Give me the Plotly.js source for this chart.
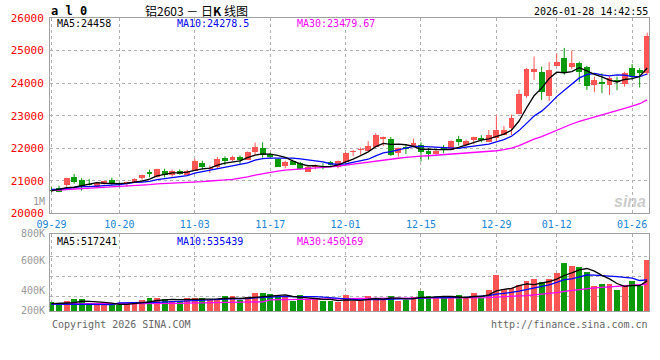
<!DOCTYPE html>
<html><head><meta charset="utf-8">
<script src="https://cdn.plot.ly/plotly-3.0.1.min.js"></script>
<style>html,body{margin:0;padding:0;background:#fff}#chart{width:660px;height:360px}</style>
</head><body><div id="chart"></div>
<script>
// ---- data (al0 daily K line, 2025-09-29 .. 2026-01-28) ----
const tickPos = [0, 9, 19, 29, 39, 49, 59, 67, 77];
const tickLabels = ['09-29','10-20','11-03','11-17','12-01','12-15','12-29','01-12','01-26'];

const openP = [20730,20787,20870,21116,21033,20900,20810,20890,21015,20900,
  20890,20960,21076,21279,21107,21300,21187,21300,21190,21310,
  21556,21353,21424,21710,21639,21740,21648,21876,22017,21833,
  21664,21464,21617,21537,21280,21414,21460,21587,21424,21568,
  21875,21937,21925,22039,22275,22294,21845,22030,22040,22110,
  21925,21823,21997,21956,22285,22110,22265,22325,22200,22316,
  22417,22613,23063,23607,24345,24330,23607,24540,24775,24490,
  24630,24490,23955,24036,23955,24100,23965,24470,24400,24305];
const highP = [20800,20849,21090,21208,21085,21054,20935,21000,21095,20950,
  20975,21075,21185,21341,21370,21370,21341,21350,21340,21670,
  21617,21470,21730,21750,21770,21780,21900,22171,22181,21860,
  21680,21617,21650,21580,21440,21500,21540,21600,21620,21880,
  21940,22020,22220,22460,22360,22340,22020,22090,22294,22183,
  22000,21940,22100,22240,22380,22260,22350,22400,22560,23010,
  22680,23032,23800,24460,24815,24508,24650,24918,25080,25000,
  24661,24528,24200,24300,24200,24200,24350,24590,24460,25550];
const lowP = [20645,20650,20818,20910,20695,20849,20795,20880,20870,20840,
  20818,20950,21030,21107,21100,21107,21125,21190,21150,21300,
  21340,21240,21363,21484,21600,21500,21640,21800,21710,21710,
  21420,21380,21480,21340,21270,21350,21350,21470,21380,21560,
  21750,21800,21900,22030,22068,21762,21741,21820,22030,21587,
  21650,21810,21840,21950,22080,22070,22120,22180,22190,22230,
  22400,22407,23040,23555,24100,23484,23444,24520,24253,24428,
  24036,23790,23730,23690,23637,23780,23890,24100,23865,24250];
const closeP = [20690,20664,21085,20972,20849,20880,20920,20993,20890,20870,
  20960,21060,21178,21199,21362,21170,21300,21200,21300,21617,
  21414,21393,21670,21608,21740,21630,21894,22048,21802,21730,
  21437,21587,21494,21353,21433,21464,21440,21485,21608,21863,
  21925,21968,22070,22408,22355,21793,22008,21968,22171,21886,
  21833,21925,21945,22212,22202,22212,22343,22263,22417,22571,
  22570,22940,23678,24428,24447,23739,24410,24650,24345,24630,
  24333,23924,24100,23965,24150,24036,24305,24220,24300,25460];
const volume = [148000,119000,165000,199000,199000,136000,97000,97000,141000,97000,
  131000,148000,182000,216000,216000,199000,175000,165000,216000,216000,
  216000,182000,199000,250000,250000,182000,233000,301000,301000,284000,
  250000,233000,165000,267000,199000,199000,165000,165000,148000,267000,
  165000,165000,250000,216000,216000,250000,165000,182000,233000,335000,
  250000,216000,216000,216000,267000,233000,301000,216000,352000,607000,
  369000,386000,437000,505000,539000,488000,539000,641000,811000,760000,
  743000,658000,420000,454000,454000,352000,420000,505000,420000,867000];

const ma5Lead  = [20686,20738,20787,20800];
const ma10Lead = [20738,20740,20769,20800,20818,20818,20830,20840,20850];
const ma30Lead = [20695,20716,20738,20747,20757,20769,20787,20800,20809,20830,
  20849,20861,20870,20880,20901,20910,20922,20932,20953,20962,
  20972,20993,21002,21024,21045,21075,21120,21170,21210];
const vma5Lead  = [127000,127000,136000,143000];
const vma10Lead = [119000,119000,119000,119000,119000,119000,116000,112000,110000];
const vma30Lead = [119000,119000,119000,119000,119000,119000,119000,119000,119000,119000,
  119000,121000,122000,124000,126000,128000,129000,131000,133000,136000,
  136000,138000,139000,141000,145000,146000,150000,153000,156000];

const maText = {p5:'MA5:24458', p10:'MA10:24278.5', p30:'MA30:23479.67',
  v5:'MA5:517241', v10:'MA10:535439', v30:'MA30:450169'};
const volLabels = ['1M','800K','600K','400K','200K'];
const priceTicks = [20000,21000,22000,23000,24000,25000,26000];
const priceTickText = ['20000','21000','22000','23000','24000','25000','26000'];

// ---- helpers ----
function movingAvg(vals, n, lead) {
  return vals.map((v, i) => {
    if (i < n - 1) return lead[i];
    let s = 0; for (let k = i - n + 1; k <= i; k++) s += vals[k];
    return s / n;
  });
}
const N = closeP.length;
const idx = closeP.map((_, i) => i);
const RED = '#ff5555', GREEN = '#0a9a0a';
const up = closeP.map((c, i) => c >= openP[i]);
const col = up.map(u => u ? RED : GREEN);

function wicks(flag) {
  const x = [], y = [];
  for (let i = 0; i < N; i++) if (up[i] === flag) { x.push(i, i, null); y.push(lowP[i], highP[i], null); }
  return {x, y};
}
const wr = wicks(true), wg = wicks(false);
const MONO = 'DejaVu Sans Mono';

const traces = [
  {type:'scatter', mode:'lines', x:wr.x, y:wr.y, line:{color:RED, width:1}, hoverinfo:'skip', xaxis:'x', yaxis:'y'},
  {type:'scatter', mode:'lines', x:wg.x, y:wg.y, line:{color:GREEN, width:1}, hoverinfo:'skip', xaxis:'x', yaxis:'y'},
  {type:'bar', x:idx, base:closeP.map((c,i)=>Math.min(c,openP[i])),
   y:closeP.map((c,i)=>Math.max(Math.abs(c-openP[i]), 28)), width:0.78,
   marker:{color:col, line:{width:0}}, xaxis:'x', yaxis:'y'},
  {type:'scatter', mode:'lines', x:idx, y:movingAvg(closeP,30,ma30Lead), line:{color:'#ff00ff', width:1.3}, xaxis:'x', yaxis:'y'},
  {type:'scatter', mode:'lines', x:idx, y:movingAvg(closeP,10,ma10Lead), line:{color:'#0000ff', width:1.3}, xaxis:'x', yaxis:'y'},
  {type:'scatter', mode:'lines', x:idx, y:movingAvg(closeP,5,ma5Lead), line:{color:'#000000', width:1.3}, xaxis:'x', yaxis:'y'},
  {type:'bar', x:idx, y:volume, width:0.78, marker:{color:col, line:{width:0}}, xaxis:'x2', yaxis:'y2'},
  {type:'scatter', mode:'lines', x:idx, y:movingAvg(volume,30,vma30Lead), line:{color:'#ff00ff', width:1.3}, xaxis:'x2', yaxis:'y2'},
  {type:'scatter', mode:'lines', x:idx, y:movingAvg(volume,10,vma10Lead), line:{color:'#0000ff', width:1.3}, xaxis:'x2', yaxis:'y2'},
  {type:'scatter', mode:'lines', x:idx, y:movingAvg(volume,5,vma5Lead), line:{color:'#000000', width:1.3}, xaxis:'x2', yaxis:'y2'}
];

// pixel helpers for paper positions (plot area: x 50..649, y 18..311)
const T = 18, B = 311, H = B - T;
const py = px => (B - px) / H;
const GRID = '#b0b0b0', BORDER = '#a0a0a0';

const axX = {range:[-0.2, 79.24], tickmode:'array', tickvals:tickPos, ticktext:tickLabels,
  showgrid:true, gridcolor:GRID, griddash:'dot', gridwidth:1, zeroline:false,
  showline:true, linecolor:BORDER, linewidth:1, mirror:true,
  ticks:'outside', ticklen:2, tickcolor:'rgba(0,0,0,0)', fixedrange:true};

const annotations = [
  {text:'<b>a l 0</b>', x:49, y:11, font:{family:MONO, size:12, color:'#000'}, xanchor:'left'},
  {text:'铝2603 － 日<b>K</b> 线图', x:196, y:10, font:{family:'Noto Sans CJK SC', size:12, color:'#000'}, xanchor:'center'},
  {text:'2026-01-28 14:42:55', x:650, y:11, font:{family:MONO, size:10, color:'#000'}, xanchor:'right'},
  {text:maText.p5, x:55, y:24, font:{family:MONO, size:10, color:'#000'}, xanchor:'left'},
  {text:maText.p10, x:175, y:24, font:{family:MONO, size:10, color:'#0000ff'}, xanchor:'left'},
  {text:maText.p30, x:295, y:24, font:{family:MONO, size:10, color:'#ff00ff'}, xanchor:'left'},
  {text:maText.v5, x:55, y:241, font:{family:MONO, size:10, color:'#000'}, xanchor:'left'},
  {text:maText.v10, x:175, y:241, font:{family:MONO, size:10, color:'#0000ff'}, xanchor:'left'},
  {text:maText.v30, x:295, y:241, font:{family:MONO, size:10, color:'#ff00ff'}, xanchor:'left'},
  {text:'Copyright 2026 SINA.COM', x:50, y:324, font:{family:MONO, size:10, color:'#666'}, xanchor:'left'},
  {text:'http://finance.sina.com.cn', x:650, y:324, font:{family:MONO, size:10, color:'#666'}, xanchor:'right'},
  {text:'<b><i>sina</i></b>', x:630, y:201, font:{family:'Liberation Sans', size:16, color:'rgba(190,190,190,0.8)'}, xanchor:'center'}
].map(a => Object.assign({xref:'paper', yref:'paper', showarrow:false, yanchor:'middle'}, a, {x:(a.x-50)/599, y:py(a.y)}));

const volY = [201, 233, 260.7, 290.7, 310];
volLabels.forEach((t, i) => annotations.push({text:t, xref:'paper', yref:'paper', x:-3/599, y:py(volY[i]),
  xanchor:'right', yanchor:'middle', showarrow:false, font:{family:MONO, size:10, color:'#999'}}));

const layout = {
  width:660, height:360, margin:{l:50, r:11, t:T, b:360-B}, paper_bgcolor:'#fff', plot_bgcolor:'#fff',
  showlegend:false, bargap:0, barmode:'overlay', hovermode:false,
  xaxis:Object.assign({}, axX, {anchor:'y', tickfont:{family:MONO, size:10, color:'#1a84d4'}}),
  xaxis2:Object.assign({}, axX, {anchor:'y2', matches:'x', showticklabels:false}),
  yaxis:{domain:[py(213.3), 1], range:[20000, 26000], tickmode:'array', tickvals:priceTicks, ticktext:priceTickText,
    showgrid:true, gridcolor:GRID, griddash:'dot', zeroline:false, showline:true, linecolor:BORDER, mirror:true,
    ticks:'outside', ticklen:3, tickcolor:'rgba(0,0,0,0)', tickfont:{family:MONO, size:11, color:'#ff0000'}, fixedrange:true},
  yaxis2:{domain:[0, py(234.3)], range:[0, 1304000], tickmode:'array', tickvals:[255000, 595000, 935000],
    showticklabels:false, showgrid:true, gridcolor:GRID, griddash:'dot', zeroline:false,
    showline:true, linecolor:BORDER, mirror:true, fixedrange:true},
  annotations:annotations
};
Plotly.newPlot('chart', traces, layout, {displayModeBar:false, staticPlot:true});
</script></body></html>
